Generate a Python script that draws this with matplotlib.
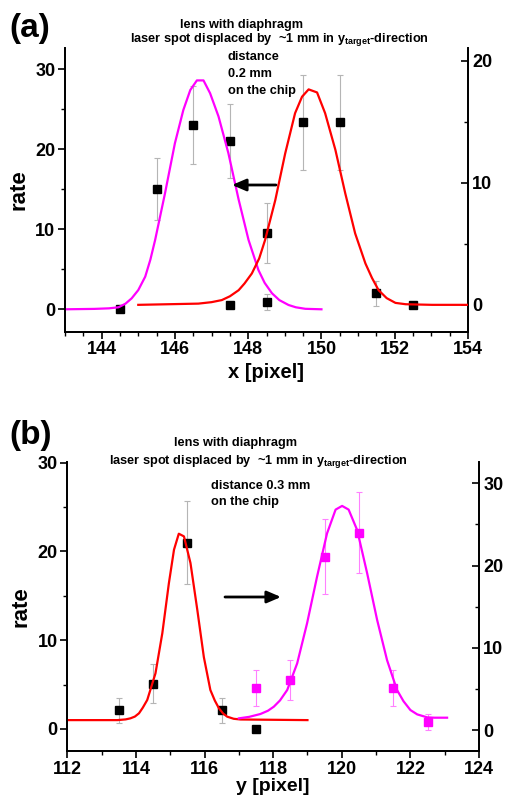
import matplotlib
matplotlib.use('Agg')
import matplotlib.pyplot as plt

plt.rcParams['font.family'] = ['Liberation Sans', 'DejaVu Sans']
plt.rcParams['font.weight'] = 'bold'
plt.rcParams['axes.labelweight'] = 'bold'
plt.rcParams['mathtext.fontset'] = 'custom'
plt.rcParams['mathtext.rm'] = 'Liberation Sans:bold'
plt.rcParams['mathtext.bf'] = 'Liberation Sans:bold'

# ---- panel (a): x scan ----
a_mag_x = [144.5, 145.5, 146.5, 147.5, 148.5]
a_mag_y = [0.0, 15.0, 23.0, 21.0, 0.9]
a_mag_err = [0.0, 3.9, 4.9, 4.6, 1.0]
a_red_x = [147.5, 148.5, 149.5, 150.5, 151.5, 152.5]
a_red_y = [0.0, 5.9, 14.95, 14.95, 0.93, 0.0]
a_red_err = [0.0, 2.45, 3.9, 3.9, 1.0, 0.0]

# fit curves
a_magfit_x = [143.0, 143.8, 144.2, 144.46, 144.65, 144.82, 145.0, 145.19, 145.33, 145.46, 145.73,
              146.0, 146.23, 146.42, 146.6, 146.78, 146.96, 147.19, 147.46, 147.74, 148.01,
              148.28, 148.45, 148.65, 148.85, 149.1, 149.3, 149.56, 150.0]
a_magfit_y = [0.0, 0.05, 0.12, 0.25, 0.7, 1.37, 2.4, 4.08, 6.2, 8.66, 14.5,
              20.75, 24.9, 27.4, 28.6, 28.6, 27.0, 24.1, 19.5, 13.7, 8.66,
              4.9, 3.3, 2.0, 1.15, 0.54, 0.25, 0.06, 0.0]
a_redfit_x = [145.0, 146.64, 147.0, 147.28, 147.5, 147.74, 147.9, 148.1, 148.3, 148.46, 148.74,
              149.01, 149.28, 149.47, 149.65, 149.88, 150.1, 150.38, 150.65, 150.92, 151.2,
              151.38, 151.56, 151.78, 152.02, 152.3, 153.02, 154.0]
a_redfit_y = [0.0, 0.1, 0.22, 0.39, 0.7, 1.2, 1.75, 2.57, 3.8, 5.3, 8.58,
              12.4, 15.7, 17.05, 17.65, 17.4, 15.7, 12.7, 9.13, 5.85, 3.39,
              2.2, 1.2, 0.55, 0.16, 0.05, 0.0, 0.0]

# ---- panel (b): y scan ----
b_blk_x = [113.5, 114.5, 115.5, 116.5, 117.5]
b_blk_y = [2.1, 5.1, 21.0, 2.1, 0.0]
b_blk_err = [1.4, 2.2, 4.65, 1.4, 0.0]
b_mag_x = [117.5, 118.5, 119.5, 120.5, 121.5, 122.5]
b_mag_y = [5.07, 6.08, 21.08, 24.0, 5.07, 1.0]
b_mag_err = [2.2, 2.4, 4.6, 4.95, 2.2, 0.95]

b_redfit_x = [112.0, 113.46, 113.7, 113.84, 113.97, 114.09, 114.2, 114.33, 114.57, 114.77, 114.96,
              115.11, 115.25, 115.4, 115.59, 115.79, 115.98, 116.17, 116.3, 116.42, 116.54,
              116.66, 116.85, 117.05, 119.0]
b_redfit_y = [1.0, 1.0, 1.08, 1.2, 1.4, 1.77, 2.4, 3.27, 6.27, 10.8, 16.4,
              20.2, 22.0, 21.7, 18.7, 13.4, 8.1, 4.39, 3.2, 2.33, 1.75,
              1.39, 1.15, 1.07, 1.0]
b_magfit_x = [117.0, 117.3, 117.63, 117.85, 118.02, 118.2, 118.41, 118.7, 118.99, 119.28, 119.57,
              119.82, 120.01, 120.2, 120.45, 120.74, 121.03, 121.32, 121.61, 121.8, 122.0,
              122.2, 122.49, 122.7, 123.07]
b_magfit_y = [1.42, 1.6, 1.95, 2.35, 2.84, 3.6, 4.87, 8.1, 13.0, 18.65, 23.9,
              26.8, 27.25, 26.8, 24.3, 19.06, 13.4, 8.5, 4.87, 3.5, 2.43,
              1.9, 1.54, 1.5, 1.5]

W, H = 507, 799
fig = plt.figure(figsize=(W / 100, H / 100), dpi=100)

def fx(px):
    return px / W

def fy(py):
    return 1 - py / H

tick_fs = 13
err_kw = dict(fmt='s', ms=5.5, capsize=2.5, elinewidth=0.8, capthick=0.8)

def style(ax, ax2, xmaj, xmin):
    for a in (ax, ax2):
        a.spines['top'].set_visible(False)
        for s in a.spines.values():
            s.set_linewidth(1.3)
    ax.xaxis.set_major_locator(plt.MultipleLocator(xmaj))
    ax.xaxis.set_minor_locator(plt.MultipleLocator(xmin))
    ax.yaxis.set_major_locator(plt.MultipleLocator(10))
    ax.yaxis.set_minor_locator(plt.MultipleLocator(5))
    ax2.yaxis.set_major_locator(plt.MultipleLocator(10))
    ax2.yaxis.set_minor_locator(plt.MultipleLocator(5))
    ax.tick_params(axis='both', which='major', direction='out', length=5, width=1.2,
                   labelsize=tick_fs, pad=2)
    ax.tick_params(axis='both', which='minor', direction='out', length=3, width=1.0)
    ax.tick_params(axis='x', top=False, which='both')
    ax.tick_params(axis='y', right=False, which='both')
    ax2.tick_params(axis='y', which='major', direction='in', length=5, width=1.2,
                    labelsize=tick_fs, pad=3)
    ax2.tick_params(axis='y', which='minor', direction='in', length=3, width=1.0)
    for t in ax.get_xticklabels() + ax.get_yticklabels() + ax2.get_yticklabels():
        t.set_fontweight('bold')

# panel (a)
ax = fig.add_axes([fx(65), fy(331.7), fx(403), 283.7 / H])
ax2 = ax.twinx()
ax.set_xlim(143, 154)
ax.set_ylim(-2.8, 32.65)
ax2.set_ylim(-2.2, 21.04)
ax.errorbar(a_mag_x, a_mag_y, yerr=a_mag_err, color='black', ecolor='#b5b5b5', **err_kw, zorder=2)
ax.plot(a_magfit_x, a_magfit_y, color='#ff00ff', lw=1.6, zorder=3)
ax2.errorbar(a_red_x, a_red_y, yerr=a_red_err, color='black', ecolor='#b5b5b5', **err_kw, zorder=2)
ax2.plot(a_redfit_x, a_redfit_y, color='#ff0000', lw=1.6, zorder=3)
style(ax, ax2, 2, 0.5)
ax.set_xlabel('x [pixel]', fontsize=14.5, labelpad=3)
ax.set_ylabel('rate', fontsize=16, labelpad=4)

fig.text(fx(9), fy(28), '(a)', fontsize=24, va='center', ha='left')
fig.text(fx(242), fy(25), 'lens with diaphragm', fontsize=9.2, ha='center', va='center')
fig.text(fx(279), fy(39.5), r'laser spot displaced by  ~1 mm in y$_{\mathregular{target}}$-direction',
         fontsize=9.2, ha='center', va='center')
fig.text(fx(228), fy(74), 'distance\n0.2 mm\non the chip', fontsize=9.2, ha='left', va='center',
         linespacing=1.55)
fig.add_artist(plt.Annotation('', xy=(fx(232), fy(185)), xytext=(fx(276), fy(185)),
                              xycoords='figure fraction', textcoords='figure fraction',
                              arrowprops=dict(arrowstyle='-|>,head_length=0.7,head_width=0.3',
                                              lw=2, color='black', mutation_scale=12,
                                              shrinkA=0, shrinkB=0)))

# panel (b)
bx = fig.add_axes([fx(67.3), fy(751), fx(411.7), 289 / H])
bx2 = bx.twinx()
bx.set_xlim(112, 124)
bx.set_ylim(-2.48, 30.08)
bx2.set_ylim(-2.55, 32.59)
bx.errorbar(b_blk_x, b_blk_y, yerr=b_blk_err, color='black', ecolor='#b5b5b5', **err_kw, zorder=2)
bx.plot(b_redfit_x, b_redfit_y, color='#ff0000', lw=1.6, zorder=3)
bx2.errorbar(b_mag_x, b_mag_y, yerr=b_mag_err, color='#ff00ff', ecolor='#ff80ff', **err_kw, zorder=2)
bx2.plot(b_magfit_x, b_magfit_y, color='#ff00ff', lw=1.6, zorder=3)
style(bx, bx2, 2, 1)
bx.set_xlabel('y [pixel]', fontsize=14, labelpad=0)
bx.set_ylabel('rate', fontsize=16, labelpad=4)

fig.text(fx(9), fy(436), '(b)', fontsize=24, va='center', ha='left')
fig.text(fx(236), fy(443), 'lens with diaphragm', fontsize=9.2, ha='center', va='center')
fig.text(fx(258), fy(461), r'laser spot displaced by  ~1 mm in y$_{\mathregular{target}}$-direction',
         fontsize=9.2, ha='center', va='center')
fig.text(fx(211), fy(494), 'distance 0.3 mm\non the chip', fontsize=9.2, ha='left', va='center',
         linespacing=1.55)
fig.add_artist(plt.Annotation('', xy=(fx(281), fy(597)), xytext=(fx(225), fy(597)),
                              xycoords='figure fraction', textcoords='figure fraction',
                              arrowprops=dict(arrowstyle='-|>,head_length=0.7,head_width=0.3',
                                              lw=2, color='black', mutation_scale=12,
                                              shrinkA=0, shrinkB=0)))

fig.savefig('out.png', dpi=100)
